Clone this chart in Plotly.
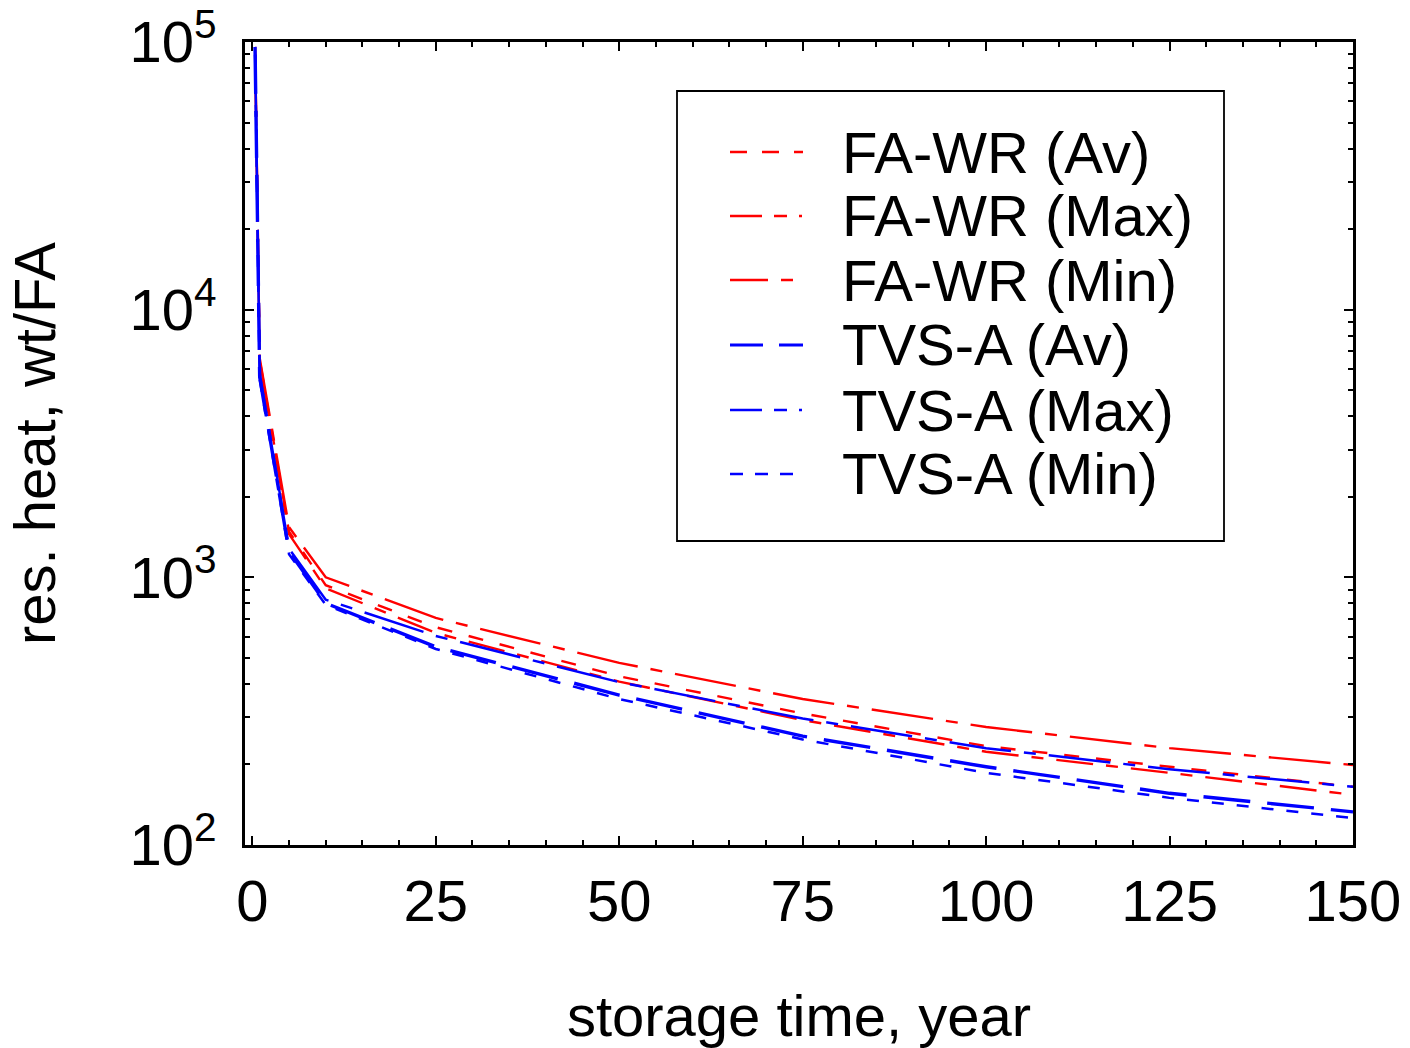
import plotly.graph_objects as go

# ---------------- data ----------------
t_years = [0, 1, 5, 10, 25, 50, 75, 100, 125, 150]

fa_wr_av = [5e5, 6500, 1480, 935, 651, 427, 310, 234, 196, 165]
fa_wr_max = [5e5, 6600, 1540, 1000, 705, 479, 351, 276, 230, 199]
fa_wr_min = [5e5, 6400, 1450, 910, 620, 408, 293, 223, 186, 154]
tvs_a_av = [5e5, 5600, 1250, 800, 550, 363, 255, 196, 156, 133]
tvs_a_max = [5e5, 5800, 1280, 825, 604, 406, 297, 230, 192, 165]
tvs_a_min = [5e5, 5500, 1220, 790, 540, 351, 248, 186, 150, 126]

series_names = ["FA-WR (Av)", "FA-WR (Max)", "FA-WR (Min)",
                "TVS-A (Av)", "TVS-A (Max)", "TVS-A (Min)"]
series_values = [fa_wr_av, fa_wr_max, fa_wr_min, tvs_a_av, tvs_a_max, tvs_a_min]

x_tick_vals = [0, 25, 50, 75, 100, 125, 150]
y_tick_vals = [100, 1000, 10000, 100000]
y_tick_text = ["10<sup>2</sup>", "10<sup>3</sup>", "10<sup>4</sup>", "10<sup>5</sup>"]

# ---------------- styles ----------------
RED = "#FF0000"
BLUE = "#0000FF"
colors = [RED, RED, RED, BLUE, BLUE, BLUE]
widths = [2.4, 2.4, 2.4, 3.4, 2.5, 2.5]
plot_dash = ["15px,17px", "62px,13px,12px,13px", "37px,13px,12px,13px",
             "47px,17px", "62px,13px,12px,13px", "12px,13px"]
legend_dash = ["17px,15px", "32px,12px,13px,12px,3px,12px", "38px,13px,12px,13px",
               "33px,16px", "32px,12px,13px,12px,3px,12px", "13px,12px"]

W, H = 1410, 1048
L, R, T, B = 245, 1353, 42, 845
FONT = "Liberation Sans, Arial, sans-serif"
FS = 58


def px_to_paper(px, py):
    return (px - L) / (R - L), (B - py) / (B - T)


fig = go.Figure()
for name, vals, c, w, d in zip(series_names, series_values, colors, widths, plot_dash):
    fig.add_trace(go.Scatter(x=t_years, y=vals, mode="lines", name=name,
                             line=dict(color=c, width=w, dash=d),
                             showlegend=False))

# ---------------- custom legend ----------------
shapes = []
annotations = []
x0p, y0p = px_to_paper(677, 91)
x1p, y1p = px_to_paper(1224, 541)
shapes.append(dict(type="rect", xref="paper", yref="paper", x0=x0p, x1=x1p,
                   y0=y1p, y1=y0p, line=dict(color="black", width=1.8),
                   fillcolor="white", layer="above"))
row_y = [152, 216, 280, 345, 410, 474]
for i, name in enumerate(series_names):
    lx0, ly = px_to_paper(730, row_y[i])
    lx1, _ = px_to_paper(803, row_y[i])
    shapes.append(dict(type="line", xref="paper", yref="paper", x0=lx0, x1=lx1,
                       y0=ly, y1=ly, layer="above",
                       line=dict(color=colors[i], width=widths[i] if i != 3 else 3.2,
                                 dash=legend_dash[i])))
    tx, ty = px_to_paper(840, row_y[i])
    annotations.append(dict(xref="paper", yref="paper", x=tx, y=ty, text=name,
                            showarrow=False, xanchor="left", yanchor="middle",
                            font=dict(family=FONT, size=FS, color="black")))

fig.update_layout(
    width=W, height=H,
    margin=dict(l=L, r=W - R, t=T, b=H - B, autoexpand=False),
    paper_bgcolor="white", plot_bgcolor="white",
    font=dict(family=FONT, size=FS, color="black"),
    shapes=shapes, annotations=annotations,
    showlegend=False,
)

fig.update_xaxes(
    range=[-1, 150], showgrid=False, zeroline=False,
    showline=True, linecolor="black", linewidth=2.5, mirror="ticks",
    ticks="inside", ticklen=9, tickwidth=1.5, tickcolor="black",
    tickmode="array", tickvals=x_tick_vals,
    tickfont=dict(family=FONT, size=FS),
    ticklabelstandoff=4,
    minor=dict(ticks="inside", dtick=5, tick0=0, ticklen=5, tickwidth=1.5,
               tickcolor="black", showgrid=False),
    title=dict(text="storage time, year", font=dict(family=FONT, size=FS), standoff=64),
    automargin=False,
)

y_minor = [m * 10 ** e for e in range(2, 5) for m in range(2, 10)]
fig.update_yaxes(
    type="log", range=[2, 5], showgrid=False, zeroline=False,
    showline=True, linecolor="black", linewidth=2.8, mirror="ticks",
    ticks="inside", ticklen=9, tickwidth=1.5, tickcolor="black",
    tickmode="array", tickvals=y_tick_vals, ticktext=y_tick_text,
    tickfont=dict(family=FONT, size=FS),
    ticklabelstandoff=14,
    minor=dict(ticks="inside", tickmode="array", tickvals=y_minor, ticklen=5,
               tickwidth=1.5, tickcolor="black", showgrid=False),
    title=dict(text="res. heat, wt/FA", font=dict(family=FONT, size=FS), standoff=56),
    automargin=False,
)

fig.write_html("out.html")
